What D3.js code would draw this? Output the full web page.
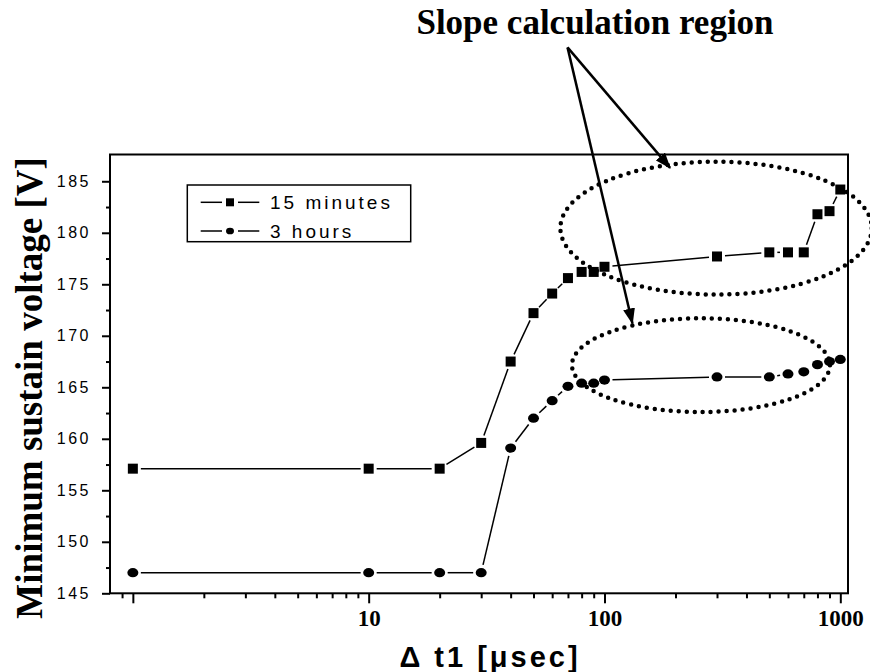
<!DOCTYPE html>
<html>
<head>
<meta charset="utf-8">
<script src="https://cdn.jsdelivr.net/npm/d3@7"></script>
<style>
  body { margin: 0; background: #fff; }
  svg { display: block; }
</style>
</head>
<body>
<svg id="chart"></svg>
<script>
// delay time [usec] and minimum sustain voltage [V]
const delayTimes = [1, 10, 20, 30, 40, 50, 60, 70, 80, 90, 100, 300, 500, 600, 700, 800, 900, 1000];
const voltage15min = [157.1, 157.1, 157.1, 159.6, 167.5, 172.2, 174.1, 175.6, 176.2, 176.2, 176.7, 177.7, 178.1, 178.1, 178.1, 181.8, 182.1, 184.2];
const voltage3h = [147.0, 147.0, 147.0, 147.0, 159.1, 162.0, 163.7, 165.1, 165.4, 165.4, 165.7, 166.0, 166.0, 166.3, 166.5, 167.2, 167.5, 167.7];
const seriesNames = ['15 minutes', '3 hours'];
const seriesShapes = ['square', 'circle'];

const yMajorTicks = [145, 150, 155, 160, 165, 170, 175, 180, 185];
const yMinorTicks = [147.5, 152.5, 157.5, 162.5, 167.5, 172.5, 177.5, 182.5];
const xMajorTicks = [1, 10, 100, 1000];
const xMinorTicks = [0.9, 2, 3, 4, 5, 6, 7, 8, 9, 20, 30, 40, 50, 60, 70, 80, 90, 200, 300, 400, 500, 600, 700, 800, 900];
const xLabelled = [10, 100, 1000];

// annotation, in data units: [xLeft, xRight, yBottom, yTop]
const regionUpper = [65, 1360, 174.0, 186.9];
const regionLower = [72.8, 904, 162.6, 171.7];
const arrowFrom = [69.7, 198.0];
const arrowTargets = [[189.8, 186.3], [131.4, 171.2]];

const width = 870;
const height = 672;
const plot = { left: 110, right: 848, top: 154.5, bottom: 593.3 };

const svg = d3.select('#chart')
    .attr('width', width)
    .attr('height', height);

const x = d3.scaleLog().domain([0.8, 1078]).range([plot.left, plot.right]);
const y = d3.scaleLinear().domain([145, 187.6]).range([plot.bottom, plot.top]);

// axes
const yAxis = svg.append('g')
    .attr('transform', `translate(${plot.left},0)`)
    .call(d3.axisLeft(y).tickValues(yMajorTicks).tickSize(8).tickPadding(11).tickFormat(d3.format('d')));
yAxis.select('.domain').remove();
yAxis.selectAll('line').attr('stroke-width', 2);
yAxis.selectAll('text')
    .attr('font-family', '"Liberation Sans", Arial, sans-serif')
    .attr('font-size', 16)
    .attr('letter-spacing', 2.5)
    .attr('fill', '#000');

const yMinor = svg.append('g')
    .attr('transform', `translate(${plot.left},0)`)
    .call(d3.axisLeft(y).tickValues(yMinorTicks).tickSize(4).tickFormat(''));
yMinor.select('.domain').remove();
yMinor.selectAll('line').attr('stroke-width', 2);

const xAxis = svg.append('g')
    .attr('transform', `translate(0,${plot.bottom})`)
    .call(d3.axisBottom(x).tickValues(xMajorTicks).tickSize(10).tickPadding(6)
        .tickFormat((d) => xLabelled.includes(d) ? String(d) : ''));
xAxis.select('.domain').remove();
xAxis.selectAll('line').attr('stroke-width', 2);
xAxis.selectAll('text')
    .attr('font-family', '"Liberation Serif", "Times New Roman", serif')
    .attr('font-weight', 'bold')
    .attr('font-size', 23)
    .attr('fill', '#000');

const xMinor = svg.append('g')
    .attr('transform', `translate(0,${plot.bottom})`)
    .call(d3.axisBottom(x).tickValues(xMinorTicks).tickSize(5).tickFormat(''));
xMinor.select('.domain').remove();
xMinor.selectAll('line').attr('stroke-width', 2);

// frame
svg.append('rect')
    .attr('x', plot.left)
    .attr('y', plot.top)
    .attr('width', plot.right - plot.left)
    .attr('height', plot.bottom - plot.top)
    .attr('fill', 'none')
    .attr('stroke', '#000')
    .attr('stroke-width', 2);

// axis titles
svg.append('text')
    .attr('transform', `translate(42,${(plot.top + plot.bottom) / 2 + 14}) rotate(-90)`)
    .attr('text-anchor', 'middle')
    .attr('font-family', '"Liberation Serif", "Times New Roman", serif')
    .attr('font-weight', 'bold')
    .attr('font-size', 37)
    .text('Minimum sustain voltage [V]');

svg.append('text')
    .attr('x', 490)
    .attr('y', 667)
    .attr('text-anchor', 'middle')
    .attr('font-family', '"Liberation Sans", Arial, sans-serif')
    .attr('font-weight', 'bold')
    .attr('font-size', 29)
    .attr('letter-spacing', 3)
    .text('\u0394 t1 [\u03bcsec]');

// marker drawing
function drawMarker(g, shape, cx, cy, size) {
  if (shape === 'square') {
    g.append('rect')
        .attr('x', cx - size / 2)
        .attr('y', cy - size / 2)
        .attr('width', size)
        .attr('height', size)
        .attr('fill', '#000');
  } else {
    g.append('ellipse')
        .attr('cx', cx)
        .attr('cy', cy)
        .attr('rx', size / 2)
        .attr('ry', size * 0.42)
        .attr('fill', '#000');
  }
}

// line segments with gaps around markers
function drawSeries(values, shape, size) {
  const g = svg.append('g');
  const gap = 8;
  const pts = delayTimes.map((t, i) => [x(t), y(values[i])]);
  for (let i = 0; i < pts.length - 1; i++) {
    const [x0, y0] = pts[i];
    const [x1, y1] = pts[i + 1];
    const len = Math.hypot(x1 - x0, y1 - y0);
    if (len <= gap * 2 + 1) continue;
    const ux = (x1 - x0) / len;
    const uy = (y1 - y0) / len;
    g.append('line')
        .attr('x1', x0 + ux * gap)
        .attr('y1', y0 + uy * gap)
        .attr('x2', x1 - ux * gap)
        .attr('y2', y1 - uy * gap)
        .attr('stroke', '#000')
        .attr('stroke-width', 1.5);
  }
  pts.forEach(([px, py]) => drawMarker(g, shape, px, py, size));
}

drawSeries(voltage15min, 'square', 10);
drawSeries(voltage3h, 'circle', 11);

// legend
const legend = svg.append('g');
legend.append('rect')
    .attr('x', 187.3)
    .attr('y', 185)
    .attr('width', 223.4)
    .attr('height', 56.7)
    .attr('fill', '#fff')
    .attr('stroke', '#000')
    .attr('stroke-width', 1.5);

seriesNames.forEach((name, i) => {
  const ly = 202.3 + i * 28.7;
  legend.append('line')
      .attr('x1', 200.7).attr('y1', ly).attr('x2', 222).attr('y2', ly)
      .attr('stroke', '#000').attr('stroke-width', 1.5);
  legend.append('line')
      .attr('x1', 238).attr('y1', ly).attr('x2', 259.3).attr('y2', ly)
      .attr('stroke', '#000').attr('stroke-width', 1.5);
  drawMarker(legend, seriesShapes[i], 230, ly, 8);
  legend.append('text')
      .attr('x', 270)
      .attr('y', ly + 7)
      .attr('font-family', '"Liberation Sans", Arial, sans-serif')
      .attr('font-size', 19)
      .attr('letter-spacing', 3)
      .text(name);
});

// annotation: dotted ellipses, arrows, caption
const annot = svg.append('g');
[regionUpper, regionLower].forEach((r) => {
  const xl = x(r[0]);
  const xr = x(r[1]);
  const yb = y(r[2]);
  const yt = y(r[3]);
  annot.append('ellipse')
      .attr('cx', (xl + xr) / 2)
      .attr('cy', (yb + yt) / 2)
      .attr('rx', (xr - xl) / 2)
      .attr('ry', (yb - yt) / 2)
      .attr('fill', 'none')
      .attr('stroke', '#000')
      .attr('stroke-width', 4.5)
      .attr('stroke-linecap', 'round')
      .attr('stroke-dasharray', '0 8');
});

svg.append('defs').append('marker')
    .attr('id', 'arrowhead')
    .attr('markerUnits', 'userSpaceOnUse')
    .attr('viewBox', '0 0 16 12')
    .attr('refX', 15)
    .attr('refY', 6)
    .attr('markerWidth', 16)
    .attr('markerHeight', 12)
    .attr('orient', 'auto')
    .append('path')
    .attr('d', 'M0,0 L16,6 L0,12 Z')
    .attr('fill', '#000');

arrowTargets.forEach((t) => {
  annot.append('line')
      .attr('x1', x(arrowFrom[0]))
      .attr('y1', y(arrowFrom[1]))
      .attr('x2', x(t[0]))
      .attr('y2', y(t[1]))
      .attr('stroke', '#000')
      .attr('stroke-width', 2.5)
      .attr('marker-end', 'url(#arrowhead)');
});

svg.append('text')
    .attr('x', 595)
    .attr('y', 34)
    .attr('text-anchor', 'middle')
    .attr('font-family', '"Liberation Serif", "Times New Roman", serif')
    .attr('font-weight', 'bold')
    .attr('font-size', 35)
    .text('Slope calculation region');
</script>
</body>
</html>
